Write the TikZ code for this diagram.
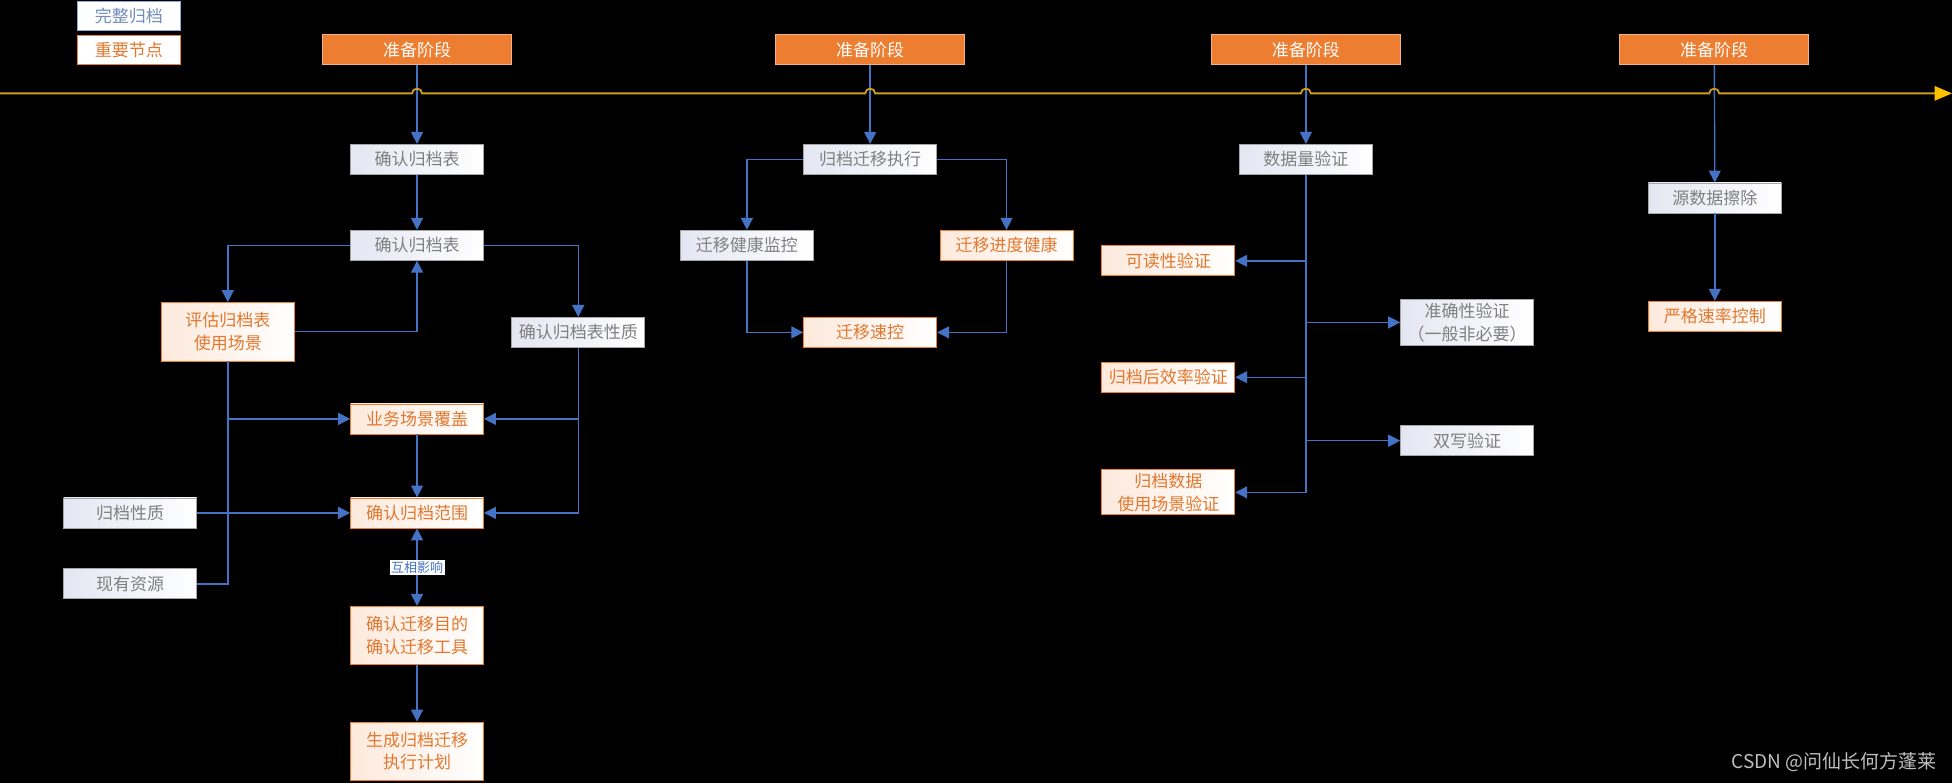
\documentclass[tikz,border=0pt]{standalone}
\usepackage{fontspec}
\setmainfont{Noto Sans CJK SC}
\usetikzlibrary{arrows.meta}
\definecolor{cblue}{HTML}{4472C4}
\definecolor{corange}{HTML}{ED7D31}
\definecolor{otext}{HTML}{E2782F}
\definecolor{gtext}{HTML}{808080}
\definecolor{gborder}{HTML}{A6A6A6}
\definecolor{lav}{HTML}{E4E6F2}
\definecolor{peach}{HTML}{FDE9DC}
\definecolor{tline}{HTML}{D09E1C}
\definecolor{ttip}{HTML}{FFC000}
\definecolor{legblue}{HTML}{6F8DBB}
\definecolor{legborder}{HTML}{8EA9DB}
\definecolor{wm}{HTML}{BFBFBF}
\definecolor{hborder}{HTML}{F4B183}
\tikzset{
  base/.style={minimum height=30pt, inner sep=0pt, align=center, font=\fontsize{17}{22.5}\selectfont, line width=0.8pt},
  gbox/.style={base, draw=gborder, left color=lav, right color=white, text=gtext, minimum width=133pt},
  obox/.style={base, draw=corange, left color=peach, right color=white, text=otext, minimum width=133pt},
  head/.style={base, draw=hborder, fill=corange, text=white, minimum width=189pt},
  conn/.style={draw=cblue, line width=1.4pt, -{Triangle[length=12pt,width=12pt]}},
  bconn/.style={draw=cblue, line width=1.4pt, {Triangle[length=12pt,width=12pt]}-{Triangle[length=12pt,width=12pt]}},
  plain/.style={draw=cblue, line width=1.4pt},
  tl/.style={draw=tline, line width=1.8pt},
}
\begin{document}
\begin{tikzpicture}[x=1.245pt,y=-1.245pt]
\useasboundingbox[fill=black] (0,0) rectangle (1568,629);

% legend
\node[base, draw=legborder, fill=white, text=legblue, minimum width=103pt, minimum height=29pt] (L1) at (103.5,12.8) {完整归档};
\node[base, draw=corange, fill=white, text=otext, minimum width=103pt, minimum height=29pt] (L2) at (103.5,40) {重要节点};

% headers
\node[head] (P1) at (335,40) {准备阶段};
\node[head] (P2) at (699,40) {准备阶段};
\node[head] (P3) at (1049,40) {准备阶段};
\node[head] (P4) at (1377,40) {准备阶段};

% column 1
\node[gbox] (A1) at (335,128) {确认归档表};
\node[gbox] (A2) at (335,197) {确认归档表};
\node[obox, minimum height=58.5pt] (A3) at (183,266.5) {评估归档表\\使用场景};
\node[gbox] (A4) at (464.5,267) {确认归档表性质};
\node[obox] (A5) at (335,336.5) {业务场景覆盖};
\node[obox] (A6) at (335,412) {确认归档范围};
\node[gbox] (A7) at (104.5,412) {归档性质};
\node[gbox] (A8) at (104.5,469) {现有资源};
\node[obox, minimum height=58.5pt] (A9) at (335,510.5) {确认迁移目的\\确认迁移工具};
\node[obox, minimum height=58.5pt] (A10) at (335,603.5) {生成归档迁移\\执行计划};

% column 2
\node[gbox] (B1) at (699,128) {归档迁移执行};
\node[gbox] (B2) at (600,197) {迁移健康监控};
\node[obox] (B3) at (808.5,197) {迁移进度健康};
\node[obox] (B4) at (699,267) {迁移速控};

% column 3
\node[gbox] (C1) at (1049,128) {数据量验证};
\node[obox] (C2) at (938.5,209.5) {可读性验证};
\node[gbox, minimum height=46pt] (C3) at (1178.5,259) {准确性验证\\（一般非必要）};
\node[obox] (C4) at (938.5,303) {归档后效率验证};
\node[gbox] (C5) at (1178.5,354) {双写验证};
\node[obox, minimum height=45pt] (C6) at (938.5,395.5) {归档数据\\使用场景验证};

% column 4
\node[gbox] (D1) at (1377.5,159) {源数据擦除};
\node[obox] (D2) at (1377.5,254) {严格速率控制};

% connectors column 1
\draw[conn] (P1) -- (A1);
\draw[conn] (A1) -- (A2);
\draw[conn] (A2.west) -| (A3.north);
\draw[conn] (A3.east) -| (A2.south);
\draw[conn] (A2.east) -| (A4.north);
\draw[plain] (A8.east) -| (A3.south);
\draw[conn] (A3.south |- A5.west) -- (A5.west);
\draw[conn] (A4.south) |- (A6.east);
\draw[conn] (A4.south |- A5.east) -- (A5.east);
\draw[conn] (A7.east) -- (A6.west);
\draw[conn] (A5) -- (A6);
\draw[bconn] (A6) -- (A9) node[midway, fill=white, text=cblue, inner sep=1.5pt, font=\fontsize{13}{15}\selectfont] (LB) {互相影响};
\draw[conn] (A9) -- (A10);

% connectors column 2
\draw[conn] (P2) -- (B1);
\draw[conn] (B1.west) -| (B2.north);
\draw[conn] (B1.east) -| (B3.north);
\draw[conn] (B2.south) |- (B4.west);
\draw[conn] (B3.south) |- (B4.east);

% connectors column 3
\draw[conn] (P3) -- (C1);
\draw[conn] (C1.south) |- (C6.east);
\draw[conn] (C1.south |- C2.east) -- (C2.east);
\draw[conn] (C1.south |- C3.west) -- (C3.west);
\draw[conn] (C1.south |- C4.east) -- (C4.east);
\draw[conn] (C1.south |- C5.west) -- (C5.west);

% connectors column 4
\draw[conn] (P4) -- (D1);
\draw[conn] (D1) -- (D2);

% timeline with hops
\coordinate (T0) at (0,75);
\coordinate (T1) at (1568,75);
\draw[tl] (T0) -- (331,75) .. controls (331,70) and (339,70) .. (339,75)
  -- (695,75) .. controls (695,70) and (703,70) .. (703,75)
  -- (1045,75) .. controls (1045,70) and (1053,70) .. (1053,75)
  -- (1373,75) .. controls (1373,70) and (1381,70) .. (1381,75)
  -- (1556,75);
\fill[ttip] (1568,75) -- (1554,69) -- (1554,81) -- cycle;

% watermark
\node[anchor=east, text=wm, inner sep=0pt, font=\fontsize{19}{22}\selectfont] (WM) at (1556,612) {CSDN @问仙长何方蓬莱};
\end{tikzpicture}
\end{document}
